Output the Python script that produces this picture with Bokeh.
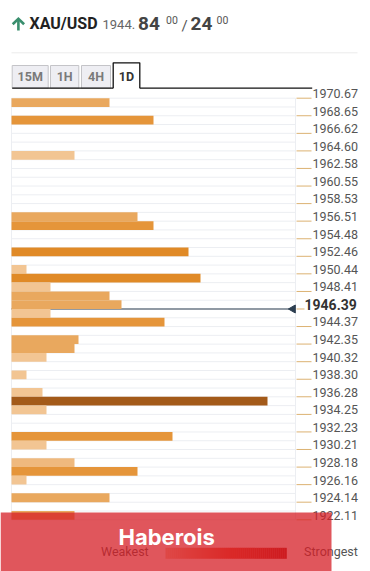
import numpy as np
from bokeh.plotting import figure
from bokeh.models import Range1d, ColumnDataSource
from bokeh.core.properties import value
from bokeh.embed import file_html
from bokeh.resources import INLINE

# ---------------- data ----------------
symbol = "XAU/USD"
tick_labels = [1970.67, 1968.65, 1966.62, 1964.60, 1962.58, 1960.55, 1958.53,
               1956.51, 1954.48, 1952.46, 1950.44, 1948.41, 1946.39, 1944.37,
               1942.35, 1940.32, 1938.30, 1936.28, 1934.25, 1932.23, 1930.21,
               1928.18, 1926.16, 1924.14, 1922.11]
current_price = 1946.39
levels = [1970.16, 1968.14, 1964.09, 1957.02, 1956.00, 1952.97, 1950.95, 1949.94,
          1948.92, 1947.91, 1946.90, 1945.89, 1944.88, 1942.85, 1941.84, 1940.83,
          1938.81, 1936.78, 1935.77, 1934.76, 1931.73, 1930.72, 1928.69, 1927.68,
          1926.67, 1924.65, 1922.62]
strength = [98, 142, 63, 126, 142, 177, 15, 189, 39, 98, 110, 39, 153, 67, 63, 35,
            15, 31, 256, 35, 161, 35, 63, 126, 15, 98, 63]
tier = [3, 4, 1, 3, 4, 5, 1, 5, 1, 3, 3, 1, 4, 3, 3, 1, 1, 1, 6, 1, 4, 1, 2, 4, 1, 3, 3]
tabs = ["15M", "1H", "4H", "1D"]

palette = {1: "#f2c593", 2: "#efb97e", 3: "#e9a85e", 4: "#e5953a", 5: "#e08a27", 6: "#a35a19"}

# ---------------- geometry helpers (pixel -> data for decorations) ----------------
W, H = 370, 571
PXU = 8.682                      # pixels per price unit
Y_TOP = 1970.67 + 97.7 / PXU     # price at top edge of canvas
X0 = 11                          # pixel of strength zero
ROW = (tick_labels[0] - tick_labels[-1]) / 48

def X(fx):
    return fx - X0

def Y(fy):
    return Y_TOP - fy / PXU

p = figure(width=W, height=H, x_range=Range1d(X(0), X(W)), y_range=Range1d(Y(H), Y(0)),
           x_axis_type=None, y_axis_type=None, toolbar_location=None,
           output_backend="svg", min_border=0, title=None, outline_line_color=None)
p.background_fill_color = "white"
p.border_fill_color = "white"

FONT = value("Roboto")

def txt(fx, fy, s, size, color, bold=False, align="left", font=FONT):
    # fy = vertical centre of the text
    p.text(x=[X(fx)], y=[Y(fy)], text=[s], text_font=font, text_font_size=f"{size}px",
           text_color=color, text_font_style="bold" if bold else "normal",
           text_align=align, text_baseline="middle")

# ---------------- header ----------------
green = "#3a8f6e"
p.line(x=[X(17.9), X(17.9)], y=[Y(18.5), Y(30)], line_color=green, line_width=2.6)
p.line(x=[X(12.2), X(17.9), X(23.6)], y=[Y(23.8), Y(18.2), Y(23.8)], line_color=green,
       line_width=2.6, line_join="miter")
txt(29, 22.8, symbol, 16, "#222222", bold=True)
txt(102, 23.6, "1944.", 13, "#666666")
txt(137.5, 22.5, "84", 19, "#444444", bold=True)
txt(165.5, 19.5, "00", 10.5, "#555555")
txt(181, 25.5, "/", 15, "#555555")
txt(190, 22.5, "24", 19, "#444444", bold=True)
txt(216, 19.5, "00", 10.5, "#555555")

p.line(x=[X(11), X(357)], y=[Y(52.3), Y(52.3)], line_color="#ebebeb", line_width=1)

# ---------------- tabs ----------------
tab_x = [(11.7, 47.7), (50, 78.3), (81, 110), (112.7, 139.3)]
for (l, r), name in zip(tab_x[:3], tabs[:3]):
    p.quad(left=[X(l)], right=[X(r)], top=[Y(65)], bottom=[Y(87.7)],
           fill_color="#eeeef3", line_color="#c4c4c8", line_width=1)
    txt((l + r) / 2, 75.8, name, 12.5, "#7a7a7a", bold=True, align="center")
l, r = tab_x[3]
p.line(x=[X(l), X(l), X(r), X(r)], y=[Y(87.7), Y(62.3), Y(62.3), Y(87.7)],
       line_color="#111111", line_width=1.3)
txt((l + r) / 2, 75.8, tabs[3], 12.5, "#333333", bold=True, align="center")
p.line(x=[X(11.7), X(l)], y=[Y(87.7), Y(87.7)], line_color="#111111", line_width=1.3)
p.line(x=[X(r), X(311.7)], y=[Y(87.7), Y(87.7)], line_color="#111111", line_width=1.3)

# ---------------- grid ----------------
bounds = np.linspace(tick_labels[0], tick_labels[-1], 49)
p.segment(x0=0, x1=284, y0=bounds, y1=bounds, line_color="#eceef2", line_width=1)
p.segment(x0=[0, 284], x1=[0, 284], y0=tick_labels[0], y1=tick_labels[-1],
          line_color="#eceef2", line_width=1)

# current price line (under bars)
p.segment(x0=[0], x1=[281], y0=[current_price], y1=[current_price],
          line_color="#2c3e50", line_width=1.2)

# ---------------- bars ----------------
src = ColumnDataSource(dict(y=levels, right=strength, color=[palette[t] for t in tier]))
p.hbar(y="y", left=0, right="right", height=ROW, fill_color="color", line_color=None, source=src)

# ---------------- right labels ----------------
normal = [t for t in tick_labels if abs(t - current_price) > 1e-6]
p.segment(x0=285, x1=300, y0=normal, y1=normal, line_color="#dcb272", line_width=1)
p.text(x=301, y=normal, text=[f"{t:.2f}" for t in normal], text_font=FONT,
       text_font_size="12.5px", text_color="#555555", text_baseline="middle",
       text_align="left", y_offset=-4.6)
p.segment(x0=[285], x1=[293], y0=[current_price], y1=[current_price],
          line_color="#dcb272", line_width=1)
p.scatter(x=[281.5], y=[current_price], marker="triangle", angle=np.pi / 2, size=8,
          fill_color="#2c3e50", line_color="#2c3e50")
p.text(x=[293], y=[current_price], text=[f"{current_price:.2f}"], text_font=FONT,
       text_font_size="14px", text_font_style="bold", text_color="#333333",
       text_baseline="middle", text_align="left", y_offset=-4.4)

# ---------------- legend ----------------
txt(100.5, 550.5, "Weakest", 12.5, "#555555")
txt(303.5, 550.5, "Strongest", 12.5, "#555555")
stops = [(0.0, (247, 196, 165)), (0.55, (232, 72, 44)), (1.0, (179, 20, 15))]
n = 60
gx = np.linspace(165, 286, n + 1)
cols = []
for i in range(n):
    f = (i + 0.5) / n
    for (f0, c0), (f1, c1) in zip(stops[:-1], stops[1:]):
        if f0 <= f <= f1:
            k = (f - f0) / (f1 - f0)
            c = tuple(int(round(a + (b - a) * k)) for a, b in zip(c0, c1))
            cols.append("#%02x%02x%02x" % c)
            break
p.quad(left=[X(v) for v in gx[:-1]], right=[X(v) + 0.3 for v in gx[1:]],
       top=Y(547.3), bottom=Y(558.3), fill_color=cols, line_color=None)

# ---------------- watermark banner ----------------
p.quad(left=[X(0)], right=[X(331)], top=[Y(512)], bottom=[Y(H)],
       fill_color="#d61e26", fill_alpha=0.75, line_color=None)
txt(118, 536.3, "Haberois", 22, "#ffffff", bold=True, font=value("Inter"))

open("out.html", "w").write(file_html(p, INLINE))
